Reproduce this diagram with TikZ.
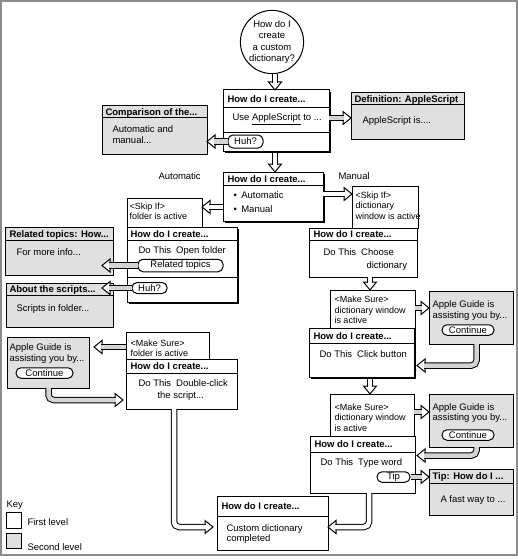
\documentclass[tikz,border=0pt]{standalone}
\usepackage{fontspec}
\setmainfont{Liberation Sans}
\usetikzlibrary{calc,shadows}
\definecolor{lvtwo}{RGB}{224,224,224}
\definecolor{shaftgray}{RGB}{212,212,212}
\definecolor{framegray}{RGB}{140,140,140}
% horizontal rule under a box title, #2 points below the top edge
\newcommand\sepline[2]{\draw ($(#1.north west)+(0,#2)$) -- ($(#1.north east)+(0,#2)$);}
\begin{document}
\begin{tikzpicture}[x=1pt,y=-1pt,line width=1pt,
  txt/.style={font=\fontsize{9.5}{10.5}\selectfont, inner sep=0pt, anchor=base west},
  lines/.style={font=\fontsize{9.5}{10.5}\selectfont, inner sep=0pt, anchor=north west, align=left},
  cond/.style={lines, font=\fontsize{9}{10.5}\selectfont},
  ttl/.style={font=\bfseries\fontsize{9.5}{11}\selectfont, inner sep=0pt, anchor=base west},
  sz/.style 2 args={minimum width=#1pt, minimum height=#2pt},
  first/.style={draw, fill=white, inner sep=0pt, outer sep=0pt, anchor=north west},
  firsts/.style={first, general shadow={fill=black, shadow xshift=2pt, shadow yshift=-2pt}},
  second/.style={draw, fill=lvtwo, inner sep=0pt, outer sep=0pt, anchor=north west},
  btn/.style={draw, fill=white, rounded corners=5pt, inner sep=0pt, font=\fontsize{9.5}{10.5}\selectfont},
  shaftw/.style={double=white, double distance=4.5pt, line width=1pt},
  shaftg/.style={double=shaftgray, double distance=4.5pt, line width=1pt},
  hhead/.pic={\draw[fill=white, line width=1pt, line join=miter] (0,0) -- (-8,6.5) -- (-8,-6.5) -- cycle;},
]
\useasboundingbox (0,0) rectangle (518,559);
\draw[framegray, line width=2pt] (1,1) rectangle (516.5,554.5);

% ---------- start question ----------
\node[draw, circle, minimum size=61pt, inner sep=0pt, align=center,
      font=\fontsize{9.5}{11.5}\selectfont] (Q) at (272,42) {How do I\\create\\a custom\\dictionary?};

% ---------- top step ----------
\node[firsts, sz={106}{61}] (A) at (223,90) {};
\sepline{A}{18} \sepline{A}{42}
\node[ttl] (Attl) at (227,102.5) {How do I create...};
\node[txt] (useA) at (232,121) {Use \underline{AppleScript} to ...};
\node[btn, sz={35}{13}] (huhA) at (245.5,141.5) {Huh?};

\node[second, sz={105}{48}] (Cmp) at (102,106) {};
\sepline{Cmp}{12}
\node[ttl] (Cmpttl) at (105,115.5) {Comparison of the...};
\node[lines] (Cmpbody) at (112,124.65) {\strut Automatic and\\manual...};

\node[second, sz={113}{46}] (Def) at (351,93) {};
\sepline{Def}{12}
\node[ttl] (Defttl) at (354,102.5) {Definition: AppleScript};
\node[txt] (Defbody) at (362,124) {AppleScript is....};

% ---------- choice step ----------
\node[firsts, sz={100}{49}] (B) at (223,172) {};
\sepline{B}{13}
\node[ttl] (Bttl) at (227,182) {How do I create...};
\node[txt] (bulA) at (233,198.5) {\textbullet\hspace{4.5pt}Automatic};
\node[txt] (bulM) at (233,212) {\textbullet\hspace{4.5pt}Manual};
\node[txt] (labAuto) at (158,179.5) {Automatic};
\node[txt] (labMan) at (338,179.5) {Manual};

% ---------- automatic branch ----------
\node[first, sz={75}{30}] (SkipL) at (127,198) {};
\node[cond] (SkipLtxt) at (129,201.15) {\strut<Skip If>\\folder is active};

\node[second, sz={108}{48}] (Rel) at (5,227) {};
\sepline{Rel}{13}
\node[ttl] (Relttl) at (9,237) {Related topics: How...};
\node[txt] (Relbody) at (16,255) {For more info...};

\node[second, sz={107}{44}] (About) at (6,283) {};
\sepline{About}{12}
\node[ttl] (Aboutttl) at (9,292.5) {About the scripts...};
\node[txt] (Aboutbody) at (16,311.5) {Scripts in folder...};

\node[firsts, sz={110}{75}] (C) at (127,227) {};
\sepline{C}{13} \sepline{C}{50}
\node[ttl] (Cttl) at (130,237) {How do I create...};
\node[txt] (doC) at (138,253.5) {Do This\hspace{5pt}Open folder};
\node[btn, sz={85}{12.5}] (relbtn) at (180.5,265.5) {Related topics};
\node[btn, sz={35}{11}] (huhC) at (149.5,288) {Huh?};

\node[first, sz={83}{27}] (MakeL) at (126,332) {};
\node[cond] (MakeLtxt) at (130,338.15) {\strut<Make Sure>\\folder is active};

\node[second, sz={82}{51}] (AppleL) at (7,337) {};
\node[lines] (AppleLtxt) at (9,342.65) {\strut Apple Guide is\\assisting you by...};
\node[btn, sz={57}{10.5}] (contL) at (44.5,373) {Continue};

\node[first, sz={111}{50}] (E) at (126,359) {};
\sepline{E}{14}
\node[ttl] (Ettl) at (130,369.5) {How do I create...};
\node[txt] (doE1) at (138,386.5) {Do This\hspace{5pt}Double-click};
\node[txt] (doE2) at (157,398.5) {the script...};

% ---------- manual branch ----------
\node[first, sz={66}{42}] (SkipR) at (352,186) {};
\node[cond] (SkipRtxt) at (355,190.15) {\strut<Skip If>\\dictionary\\window is active};

\node[first, sz={108}{49}] (G) at (309,228) {};
\sepline{G}{12}
\node[ttl] (Gttl) at (313,237.5) {How do I create...};
\node[txt] (doG1) at (323,255.5) {Do This\hspace{5pt}Choose};
\node[txt] (doG2) at (366,268.5) {dictionary};

\node[first, sz={85}{40}] (MakeR1) at (330,290) {};
\node[cond] (MakeR1txt) at (334,294.65) {\strut<Make Sure>\\dictionary window\\is active};

\node[second, sz={84}{53}] (AppleR1) at (429,291) {};
\node[lines] (AppleR1txt) at (432,299.65) {\strut Apple Guide is\\assisting you by...};
\node[btn, sz={52}{10.5}] (contR1) at (468,330) {Continue};

\node[firsts, sz={105}{49}] (H) at (309,328) {};
\sepline{H}{15}
\node[ttl] (Httl) at (313,339) {How do I create...};
\node[txt] (doH) at (319,357.5) {Do This\hspace{5pt}Click button};

\node[first, sz={84}{42}] (MakeR2) at (330,394) {};
\node[cond] (MakeR2txt) at (334,402.15) {\strut<Make Sure>\\dictionary window\\is active};

\node[second, sz={84}{53}] (AppleR2) at (429,394) {};
\node[lines] (AppleR2txt) at (432,402.15) {\strut Apple Guide is\\assisting you by...};
\node[btn, sz={52}{10.5}] (contR2) at (468,435) {Continue};

\node[first, sz={105}{57}] (I) at (310,436) {};
\sepline{I}{16}
\node[ttl] (Ittl) at (314,447.5) {How do I create...};
\node[txt] (doI) at (320,465.5) {Do This\hspace{5pt}Type word};
\node[btn, sz={33}{10.5}] (tipbtn) at (393.5,477) {Tip};

\node[second, sz={84}{46}] (TipBox) at (429,469) {};
\sepline{TipBox}{14}
\node[ttl] (Tipttl) at (432,479.5) {Tip: How do I ...};
\node[txt] (Tipbody) at (440,502.5) {A fast way to ...};

% ---------- end step ----------
\node[first, sz={111}{54}] (F) at (217,496) {};
\sepline{F}{20}
\node[ttl] (Fttl) at (221,509.5) {How do I create...};
\node[lines] (Fbody) at (226,523.15) {\strut Custom dictionary\\completed};

% ---------- key ----------
\node[txt] (keyttl) at (6,507) {Key};
\node[first, sz={15}{16}] (k1) at (6,512) {};
\node[txt] (k1lab) at (27,525.5) {First level};
\node[second, sz={15}{15}] (k2) at (6,533) {};
\node[txt] (k2lab) at (27,550) {Second level};

% ---------- hollow connectors: head first, then the shaft over its base ----------
% question -> top step
\pic[rotate=-90] at ($(A.north)+(-1,0)$) {hhead};
\draw[shaftw] ($(Q.south -| A.north)+(-1,0)$) -- ($(A.north)+(-1,-7.2)$);
% top step -> choice step
\pic[rotate=-90] at ($(B.north)+(2,0)$) {hhead};
\draw[shaftw] ($(A.south)+(-1,2)$) -- ($(B.north)+(2,-7.2)$);
% Huh? -> comparison
\pic[rotate=180] at (huhA.west -| Cmp.east) {hhead};
\draw[shaftg] (huhA.west) -- ($(huhA.west -| Cmp.east)+(7.2,0)$);
% AppleScript -> definition
\pic at ($(A.east -| Def.west)+(0,-2.5)$) {hhead};
\draw[shaftg] ($(A.east)+(0,-2.5)$) -- ($(A.east -| Def.west)+(-7.2,-2.5)$);
% choice -> automatic
\pic[rotate=180] at ($(B.west -| SkipL.east)+(0,10.5)$) {hhead};
\draw[shaftw] ($(B.west)+(0,10.5)$) -- ($(B.west -| SkipL.east)+(7.2,10.5)$);
% choice -> manual
\pic at ($(B.east -| SkipR.west)+(0,-2.5)$) {hhead};
\draw[shaftw] ($(B.east)+(0,-2.5)$) -- ($(B.east -| SkipR.west)+(-7.2,-2.5)$);
% related topics button -> related topics
\pic[rotate=180] at ($(relbtn.west -| Rel.east)+(-11,0)$) {hhead};
\draw[shaftg] (relbtn.west) -- ($(relbtn.west -| Rel.east)+(-3.8,0)$);
% Huh? -> about the scripts
\pic[rotate=180] at ($(huhC.west -| About.east)+(-11,0)$) {hhead};
\draw[shaftg] (huhC.west) -- ($(huhC.west -| About.east)+(-3.8,0)$);
% make sure -> apple guide (left)
\pic[rotate=180] at ($(MakeL.west -| AppleL.east)+(5,1.5)$) {hhead};
\draw[shaftg] ($(MakeL.west)+(0,1.5)$) -- ($(MakeL.west -| AppleL.east)+(12.2,1.5)$);
% apple guide (left) -> double-click step
\pic at ($(E.west)+(-3,16)$) {hhead};
\draw[shaftg, rounded corners=5pt] ($(AppleL.south)+(0.5,0)$) |- ($(E.west)+(-10.2,16)$);
% double-click step -> end
\pic at ($(F.west)+(-4,4)$) {hhead};
\draw[shaftw, rounded corners=5pt] ($(E.south)+(-7.5,0)$) |- ($(F.west)+(-11.2,4)$);
% type word step -> end
\pic[rotate=180] at ($(F.east)+(0,4)$) {hhead};
\draw[shaftw, rounded corners=5pt] ($(I.south)+(6.5,0)$) |- ($(F.east)+(7.2,4)$);
% choose dictionary -> make sure
\pic[rotate=-90] at ($(MakeR1.north)+(-2.5,0)$) {hhead};
\draw[shaftw] ($(G.south -| MakeR1.north)+(-2.5,0)$) -- ($(MakeR1.north)+(-2.5,-7.2)$);
% make sure -> apple guide (right, upper)
\pic at ($(MakeR1.east -| AppleR1.west)+(0,-2)$) {hhead};
\draw[shaftg] ($(MakeR1.east)+(0,-2)$) -- ($(MakeR1.east -| AppleR1.west)+(-7.2,-2)$);
% apple guide -> click button step
\pic[rotate=180] at ($(H.east)+(3,13)$) {hhead};
\draw[shaftg, rounded corners=5pt] ($(AppleR1.south)+(5.5,0)$) |- ($(H.east)+(10.2,13)$);
% click button step -> make sure
\pic[rotate=-90] at ($(MakeR2.north)+(-2,0)$) {hhead};
\draw[shaftw] ($(H.south -| MakeR2.north)+(-2,2)$) -- ($(MakeR2.north)+(-2,-7.2)$);
% make sure -> apple guide (right, lower)
\pic at ($(MakeR2.east -| AppleR2.west)+(0,-3)$) {hhead};
\draw[shaftg] ($(MakeR2.east)+(0,-3)$) -- ($(MakeR2.east -| AppleR2.west)+(-7.2,-3)$);
% apple guide -> type word step
\pic[rotate=180] at ($(I.east)+(2,-9)$) {hhead};
\draw[shaftg, rounded corners=5pt] ($(AppleR2.south)+(5.5,0)$) |- ($(I.east)+(9.2,-9)$);
% tip button -> tip
\pic at (tipbtn.east -| TipBox.west) {hhead};
\draw[shaftg] (tipbtn.east) -- ($(tipbtn.east -| TipBox.west)+(-7.2,0)$);
\end{tikzpicture}
\end{document}
